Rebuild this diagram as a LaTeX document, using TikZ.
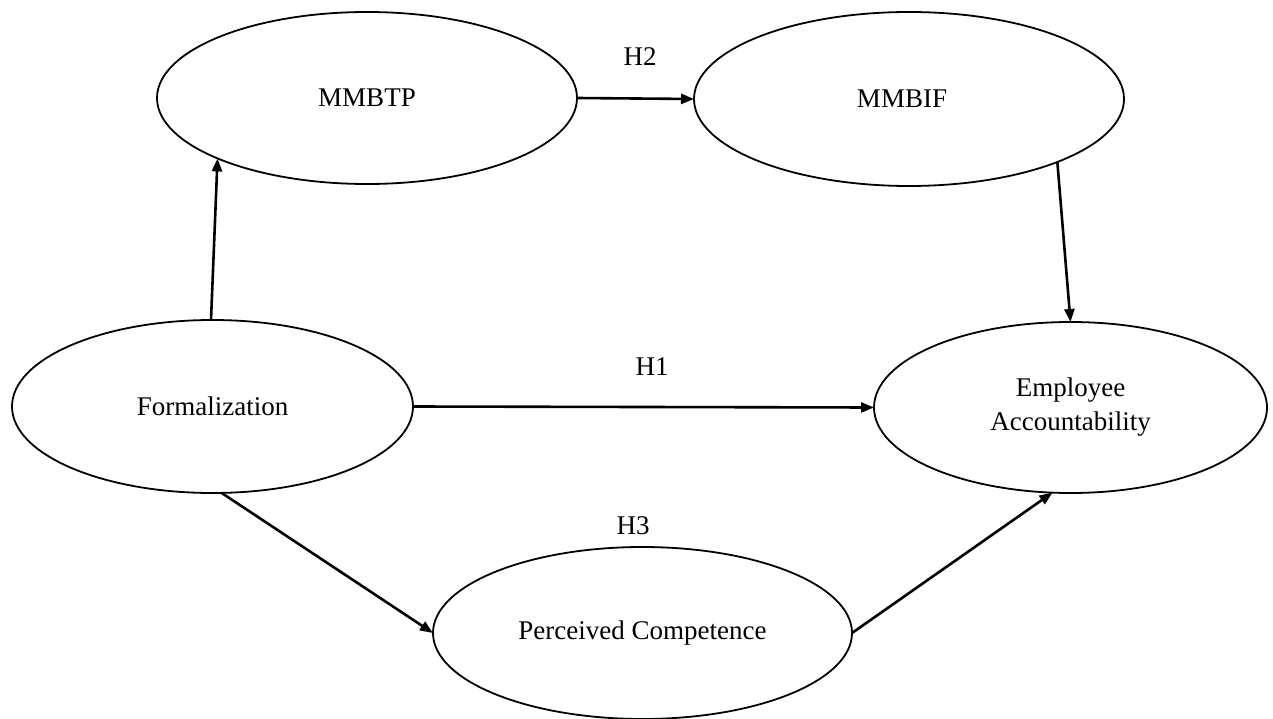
\documentclass[tikz,border=0pt]{standalone}
\usepackage{fontspec}
\setmainfont{Liberation Serif}
\usetikzlibrary{shapes.geometric,arrows.meta}
\begin{document}
\begin{tikzpicture}[x=1pt,y=-1pt,
  construct/.style={ellipse,draw=black,line width=1.8pt,inner sep=0pt,outer sep=0pt,
    font=\fontsize{27}{34}\selectfont,align=center},
  hyp/.style={font=\fontsize{27}{34}\selectfont,inner sep=0pt},
  link/.style={line width=2.6pt,-{Triangle[length=13pt,width=10pt]}}]
\useasboundingbox[fill=white] (0,0) rectangle (1273,719);
\node[construct,minimum width=420pt,minimum height=172pt] (mmbtp) at (367,98) {MMBTP};
\node[construct,minimum width=430pt,minimum height=174pt] (mmbif) at (909,99) {MMBIF\hspace*{14pt}};
\node[construct,minimum width=401pt,minimum height=173pt] (form) at (212.5,406.5) {Formalization};
\node[construct,minimum width=393pt,minimum height=171pt] (ea) at (1070.5,407.5) {Employee\\Accountability};
\node[construct,minimum width=419pt,minimum height=172pt] (pc) at (642.5,633) {Perceived Competence};
\node[hyp] (h2) at (640,57) {H2};
\node[hyp] (h1) at (652,367) {H1};
\node[hyp] (h3) at (633,526) {H3};
\draw[link] (form.91) -- (mmbtp.202);
\draw[link] (mmbtp.east) -- (mmbif.west);
\draw[link] (mmbif.-23.6) -- (ea.north);
\draw[link] (form.east) -- (ea.west);
\draw[link] (form.-84.4) -- (pc.west);
\draw[link] (pc.east) -- (ea.-102);
\end{tikzpicture}
\end{document}
